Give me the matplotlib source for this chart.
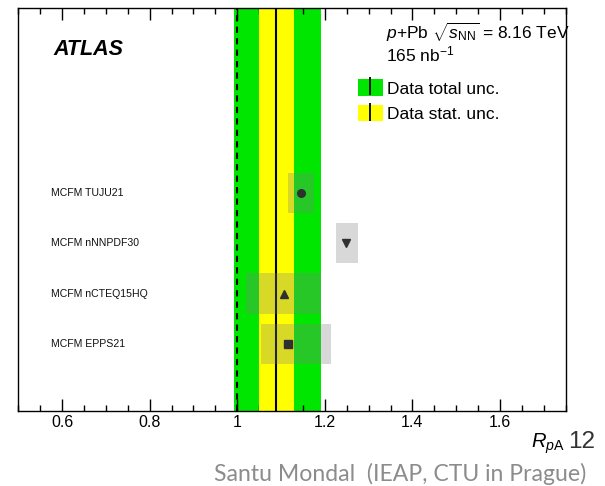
import numpy as np
import matplotlib
matplotlib.use('Agg')
import matplotlib.pyplot as plt
from matplotlib.patches import Patch
from matplotlib.lines import Line2D
from matplotlib.ticker import MultipleLocator

plt.rcParams['font.family'] = ['Liberation Sans', 'DejaVu Sans']
plt.rcParams['mathtext.fontset'] = 'custom'
plt.rcParams['mathtext.rm'] = 'Liberation Sans'
plt.rcParams['mathtext.it'] = 'Liberation Sans:italic'
plt.rcParams['mathtext.bf'] = 'Liberation Sans:bold'

#%% Dados
# medida de R_pA com incertezas
data_central = 1.089
data_stat = (1.050, 1.130)
data_total = (0.993, 1.192)

# previsoes MCFM (de baixo para cima)
modelos = ['MCFM EPPS21', 'MCFM nCTEQ15HQ', 'MCFM nNNPDF30', 'MCFM TUJU21']
modelo_centro = [1.116, 1.106, 1.249, 1.146]
modelo_min = [1.054, 1.019, 1.226, 1.116]
modelo_max = [1.215, 1.192, 1.276, 1.176]
marcadores = ['s', '^', 'v', 'o']

verde = '#00e600'
amarelo = '#ffff00'

#%% Figura
fig = plt.figure(figsize=(6.05, 4.86), dpi=100)
ax = fig.add_axes([18.3 / 605, 1 - 411 / 486, 547.4 / 605, 403 / 486])

ax.axvspan(data_total[0], data_total[1], color=verde, lw=0, zorder=1)
ax.axvspan(data_stat[0], data_stat[1], color=amarelo, lw=0, zorder=2)
ax.axvline(data_central, color='k', lw=1.5, zorder=3)
ax.axvline(1.0, color='k', lw=1.5, ls=(0, (3, 2.5)), zorder=3)

ypos = np.arange(1, len(modelos) + 1)
for y, c, lo, hi, m in zip(ypos, modelo_centro, modelo_min, modelo_max, marcadores):
    ax.fill_between([lo, hi], y - 0.4, y + 0.4, facecolor='0.5', alpha=0.3,
                    lw=0, zorder=4)
    ax.plot(c, y, marker=m, color='#303030', ms=5.5, ls='none', zorder=5)

# nomes dos modelos
for y, nome in zip(ypos, modelos):
    ax.text(0.0605, y, nome, transform=ax.get_yaxis_transform(),
            ha='left', va='center', fontsize=7.6, color='#111111')

ax.set_xlim(0.5, 1.75)
ax.set_ylim(-0.33, 7.67)
ax.set_yticks([])
ax.xaxis.set_minor_locator(MultipleLocator(0.05))
ax.set_xticks([0.6, 0.8, 1.0, 1.2, 1.4, 1.6])
ax.set_xticklabels(['0.6', '0.8', '1', '1.2', '1.4', '1.6'])
ax.tick_params(axis='x', which='both', direction='in', top=True, labelsize=11.5, pad=3)
ax.tick_params(axis='x', which='major', length=8.6, width=1)
ax.tick_params(axis='x', which='minor', length=4.3, width=1)
for s in ax.spines.values():
    s.set_linewidth(1.0)

ax.text(0.064, 0.896, 'ATLAS', transform=ax.transAxes, fontsize=15.5,
        fontweight='bold', fontstyle='italic', va='center', ha='left')
ax.text(0.672, 0.94, r'$p$+Pb $\sqrt{s_{\mathrm{NN}}}$ = 8.16 TeV', transform=ax.transAxes,
        fontsize=12.5, va='center', ha='left')
ax.text(0.672, 0.884, r'165 nb$^{-1}$', transform=ax.transAxes,
        fontsize=12.5, va='center', ha='left')

barra = dict(color='k', marker='|', ms=12.5, mew=1.3, ls='none')
handles = [(Patch(facecolor=verde, lw=0), Line2D([], [], **barra)),
           (Patch(facecolor=amarelo, lw=0), Line2D([], [], **barra))]
ax.legend(handles, ['Data total unc.', 'Data stat. unc.'], loc='upper left',
          bbox_to_anchor=(0.621, 0.823), frameon=False, fontsize=12.5,
          borderpad=0, borderaxespad=0, handlelength=1.4, handleheight=1.1,
          handletextpad=0.26, labelspacing=0.46)

fig.text(531 / 605, 1 - 448 / 486, r'$R_{p\mathrm{A}}$', fontsize=14.5, ha='left', va='baseline')
fig.text(568 / 605, 1 - 448 / 486, '12', fontsize=17.5, ha='left', va='baseline', color='#333333')
fig.text(400 / 605, 1 - 474 / 486, 'Santu Mondal  (IEAP, CTU in Prague)', fontsize=16.6,
         ha='center', va='center', color='#8c8c8c', family=['Lato', 'DejaVu Sans'])

fig.savefig('out.png', dpi=100)
